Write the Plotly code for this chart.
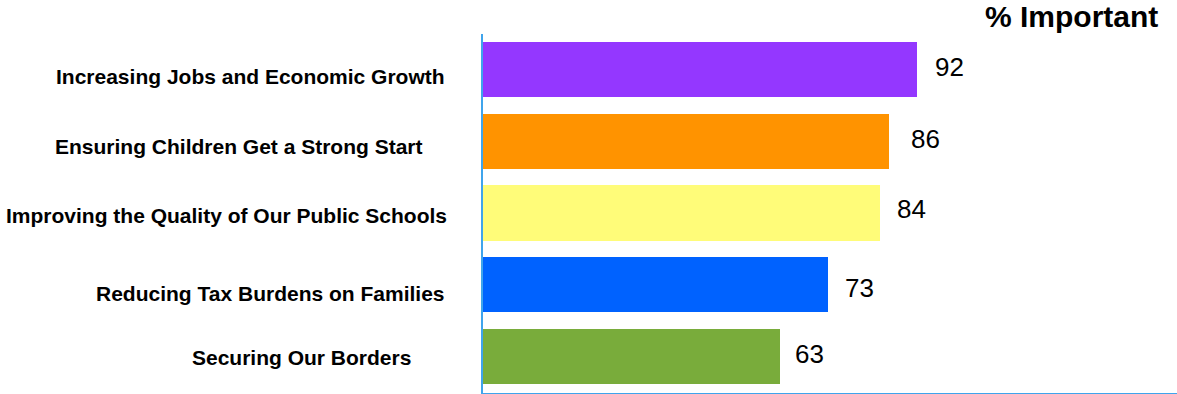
import plotly.graph_objects as go

# Survey priorities and share rating each as important
categories = [
    "Increasing Jobs and Economic Growth",
    "Ensuring Children Get a Strong Start",
    "Improving the Quality of Our Public Schools",
    "Reducing Tax Burdens on Families",
    "Securing Our Borders",
]
pct_important = [92, 86, 84, 73, 63]
bar_colors = ["#9437FF", "#FF9300", "#FFFC79", "#0062FF", "#79AC3B"]
title_text = "% Important"

# label nudges (pixels) for the category and value labels
cat_xshift = [-36, -58, -34, -36, -70]
cat_yshift = [-7, -5, -2, -9, -1]
val_xshift = [16, 20, 15, 15, 13]
val_yshift = [3, 2, 4, -3, 2]

FONT = "Helvetica, Arial, Liberation Sans, sans-serif"
AXIS_BLUE = "#3FA4EC"

fig = go.Figure(
    go.Bar(
        x=pct_important,
        y=categories,
        orientation="h",
        marker=dict(color=bar_colors, line=dict(width=0)),
        width=0.767,
        hoverinfo="x+y",
    )
)

annotations = []
for i, (cat, val) in enumerate(zip(categories, pct_important)):
    annotations.append(dict(
        x=0, y=cat, xref="paper", yref="y",
        text=f"<b>{cat}</b>", showarrow=False,
        xanchor="right", yanchor="middle",
        xshift=cat_xshift[i], yshift=cat_yshift[i],
        font=dict(family=FONT, size=21, color="#000000"),
    ))
    annotations.append(dict(
        x=val, y=cat, xref="x", yref="y",
        text=str(val), showarrow=False,
        xanchor="left", yanchor="middle",
        xshift=val_xshift[i], yshift=val_yshift[i],
        font=dict(family=FONT, size=26, color="#000000"),
    ))

annotations.append(dict(
    x=1, y=1, xref="paper", yref="paper",
    text=f"<b>{title_text}</b>", showarrow=False,
    xanchor="right", yanchor="middle",
    xshift=-17, yshift=18,
    font=dict(family=FONT, size=30, color="#000000"),
))

fig.update_layout(
    width=1177, height=394,
    margin=dict(l=483, r=0, t=34, b=1),
    paper_bgcolor="white", plot_bgcolor="white",
    showlegend=False,
    annotations=annotations,
    bargap=0,
)
fig.update_xaxes(
    range=[0, 147], showgrid=False, zeroline=False,
    showticklabels=False, ticks="",
    showline=True, linecolor=AXIS_BLUE, linewidth=2,
)
fig.update_yaxes(
    type="category", categoryorder="array", categoryarray=categories,
    range=[4.509, -0.495], showgrid=False, zeroline=False,
    showticklabels=False, ticks="",
    showline=True, linecolor=AXIS_BLUE, linewidth=2,
)

fig.write_html("out.html")
